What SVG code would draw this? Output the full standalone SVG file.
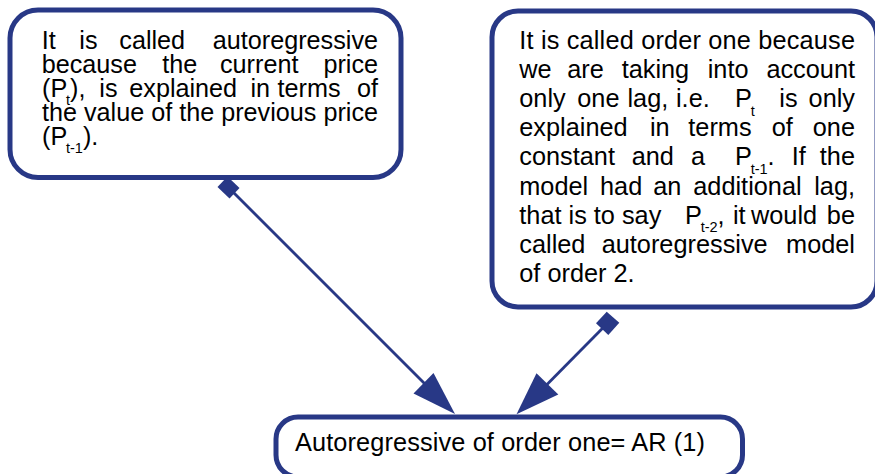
<svg xmlns="http://www.w3.org/2000/svg" width="875" height="474" viewBox="0 0 875 474">
<style>
.box{fill:#fff;stroke:#283886;stroke-width:5}
.t{font-family:"Liberation Sans",Arial,Helvetica,sans-serif;fill:#000}
.l{font-size:25.2px}
.r{font-size:25.3px}
.e{text-anchor:end}
.sub{font-size:14.5px}
.ln{stroke:#283886;stroke-width:2.8;fill:none}
.hd{fill:#283886;stroke:none}
</style>
<rect width="875" height="474" fill="#fff"/>
<g id="node-left">
<rect class="box" x="10" y="10" width="391" height="167.5" rx="28"/>
<g class="t l">
<text x="41.7" y="48.5">It</text><text x="79.3" y="48.5">is</text><text x="119.3" y="48.5">called</text><text class="e" x="378" y="48.5">autoregressive</text>
<text x="41.7" y="72.5">because</text><text x="162.3" y="72.5">the</text><text x="220" y="72.5">current</text><text class="e" x="378" y="72.5">price</text>
<text x="42" y="96.5">(P<tspan class="sub" x="66" dy="8.5">t</tspan><tspan dy="-8.5">),</tspan></text><text x="99.3" y="96.5">is</text><text x="129.3" y="96.5">explained</text><text x="250.5" y="96.5">in</text><text x="277.5" y="96.5">terms</text><text class="e" x="378" y="96.5">of</text>
<text x="42" y="120.5" textLength="336" lengthAdjust="spacing">the value of the previous price</text>
<text x="42" y="144.5">(P<tspan class="sub" x="66" dy="8.5">t-1</tspan><tspan dy="-8.5">).</tspan></text>
</g>
</g>
<g id="node-right">
<rect class="box" x="492" y="11" width="385" height="296" rx="26"/>
<g class="t r">
<text x="519.3" y="49" textLength="335.7" lengthAdjust="spacing">It is called order one because</text>
<text x="519.3" y="78.1">we</text><text x="567.3" y="78.1">are</text><text x="621.7" y="78.1">taking</text><text x="707.7" y="78.1">into</text><text class="e" x="855" y="78.1">account</text>
<text x="519.3" y="107.2">only</text><text x="577.3" y="107.2">one</text><text x="627.5" y="107.2">lag,</text><text x="676" y="107.2">i.e.</text><text x="735" y="107.2">P<tspan class="sub" x="750.7" dy="8.5">t</tspan></text><text x="779.3" y="107.2">is</text><text class="e" x="855" y="107.2">only</text>
<text x="519.3" y="136.3">explained</text><text x="650" y="136.3">in</text><text x="688.3" y="136.3">terms</text><text x="771.7" y="136.3">of</text><text class="e" x="855" y="136.3">one</text>
<text x="519.3" y="165.4">constant</text><text x="631.7" y="165.4">and</text><text x="691" y="165.4">a</text><text x="735" y="165.4">P<tspan class="sub" x="750.7" dy="8.5">t-1</tspan><tspan dy="-8.5">.</tspan></text><text x="791.7" y="165.4">If</text><text class="e" x="855" y="165.4">the</text>
<text x="519.3" y="194.5">model</text><text x="600" y="194.5">had</text><text x="653.3" y="194.5">an</text><text x="693.3" y="194.5">additional</text><text class="e" x="855" y="194.5">lag,</text>
<text x="519.3" y="223.6">that is to say</text><text x="685" y="223.6">P<tspan class="sub" x="700.7" dy="8.5">t-2</tspan><tspan dy="-8.5">,</tspan></text><text x="733" y="223.6">it</text><text x="751" y="223.6">would</text><text class="e" x="855" y="223.6">be</text>
<text x="519.3" y="252.7">called</text><text x="601.7" y="252.7">autoregressive</text><text class="e" x="855" y="252.7">model</text>
<text x="519.3" y="281.8">of order 2.</text>
</g>
</g>
<g id="node-bottom">
<rect class="box" x="276" y="417" width="466.5" height="60" rx="22"/>
<text class="t r" x="295" y="451" textLength="410" lengthAdjust="spacing">Autoregressive of order one= AR (1)</text>
</g>
<g id="connectors">
<g id="edge-left">
<line class="ln" x1="228.5" y1="187.5" x2="426" y2="385"/>
<polygon class="hd" points="227.5,176.5 239.5,188 229.5,198.5 217.5,187"/>
<polygon class="hd" points="455,414 413.5,393.5 433.5,373"/>
</g>
<g id="edge-right">
<line class="ln" x1="607.5" y1="323.2" x2="546" y2="385.5"/>
<polygon class="hd" points="606.7,311.7 619.3,322.7 608.3,335 596,323.3"/>
<polygon class="hd" points="516.5,414.3 536.5,373.3 558.3,394.5"/>
</g>
</g>
</svg>
